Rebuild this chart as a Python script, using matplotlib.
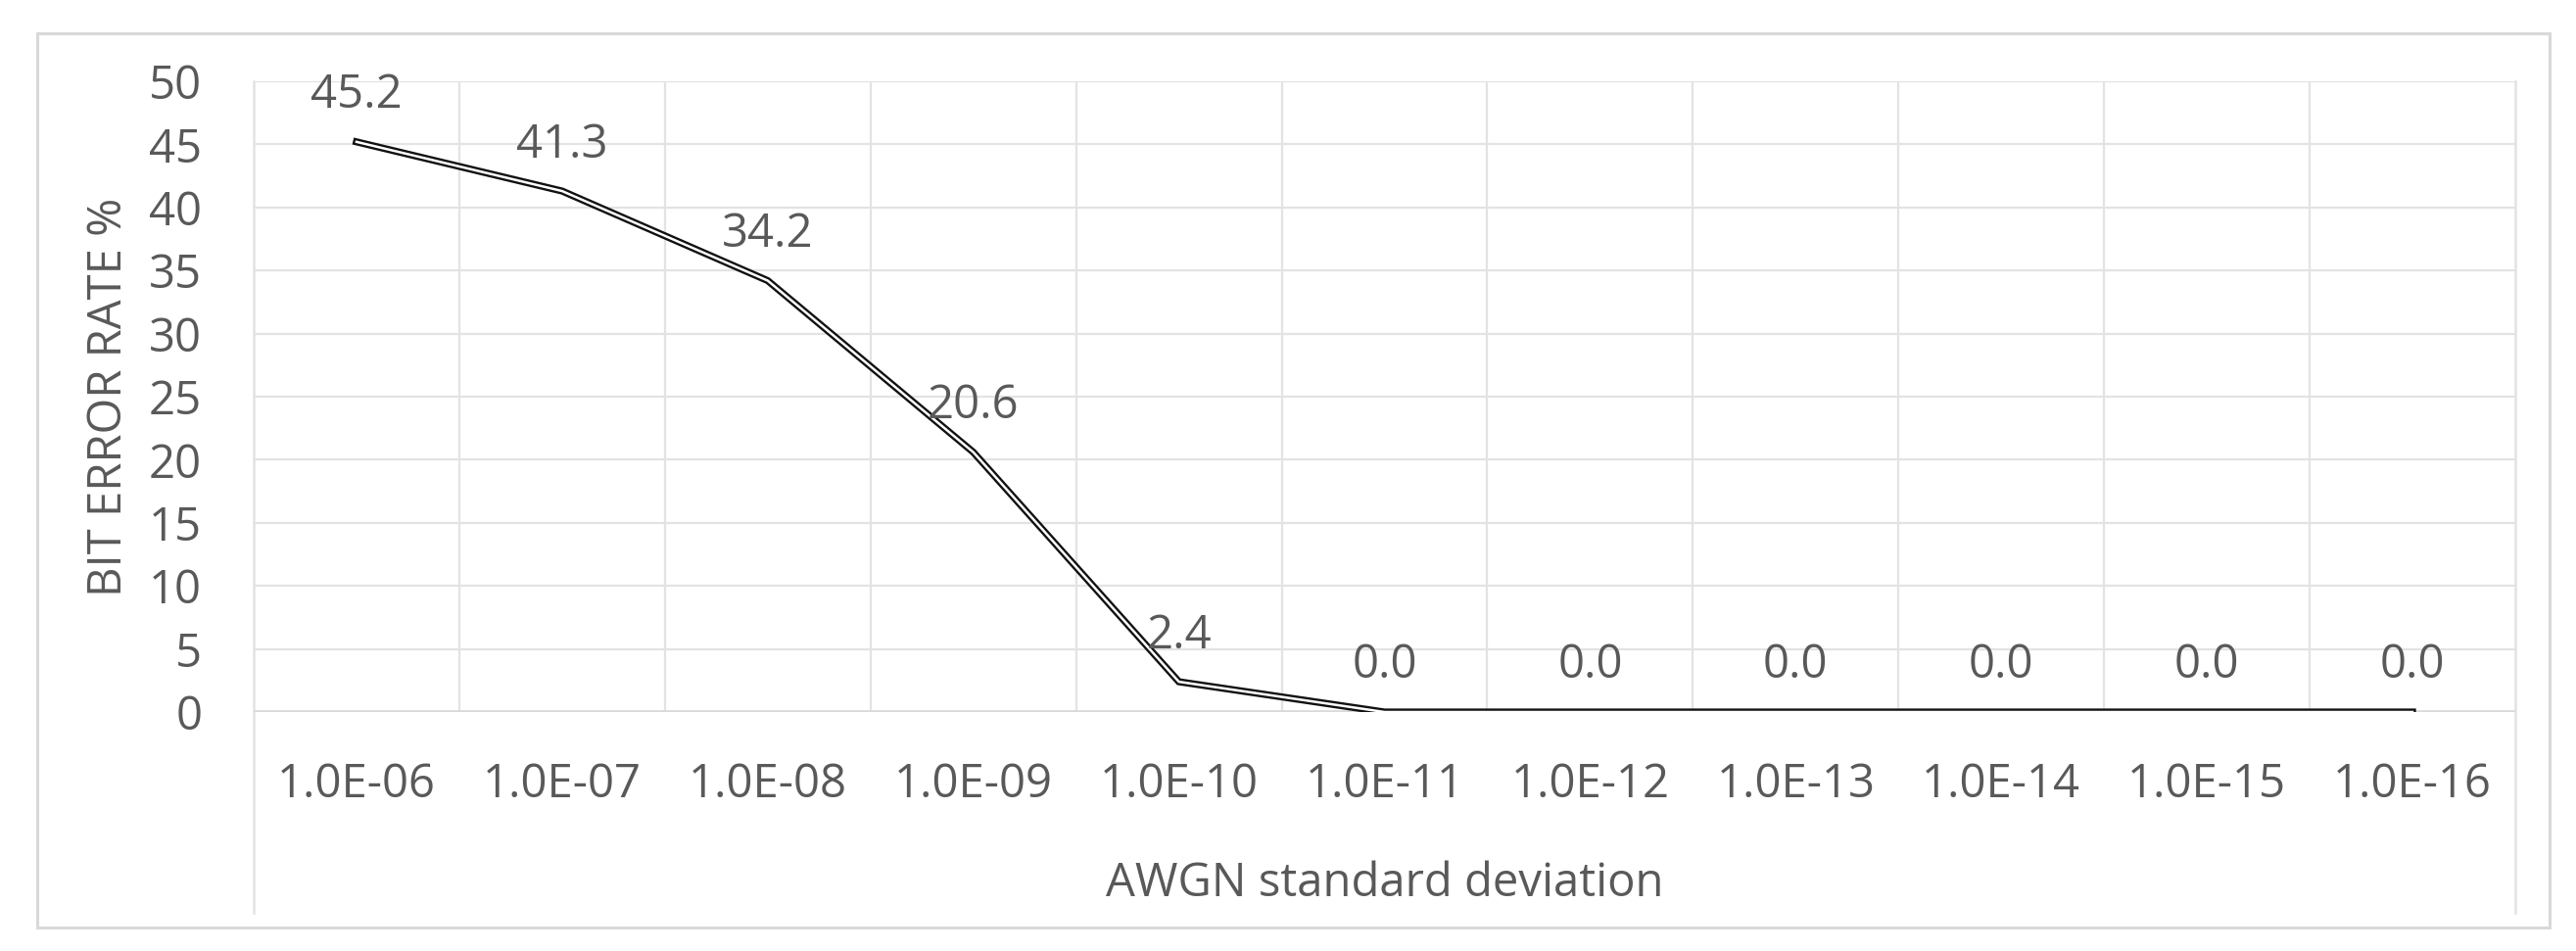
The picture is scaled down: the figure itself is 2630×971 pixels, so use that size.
import matplotlib
matplotlib.use("Agg")
from matplotlib import pyplot as plt
from matplotlib.patches import Rectangle
import numpy as np

# Data
categories = ["1.0E-06", "1.0E-07", "1.0E-08", "1.0E-09", "1.0E-10", "1.0E-11",
              "1.0E-12", "1.0E-13", "1.0E-14", "1.0E-15", "1.0E-16"]
ber = [45.2, 41.3, 34.2, 20.6, 2.4, 0.0, 0.0, 0.0, 0.0, 0.0, 0.0]
y_ticks = [0, 5, 10, 15, 20, 25, 30, 35, 40, 45, 50]

TEXT = "#595959"
GRID = "#e3e3e3"
FS = 34

plt.rcParams["font.family"] = ["Open Sans", "DejaVu Sans"]

W, H = 2630, 971
fig = plt.figure(figsize=(W / 100, H / 100), dpi=100)

# plot area in pixels: left 259, right 2568, top 83, bottom 727
ax = fig.add_axes([259 / W, 1 - 727 / H, (2568 - 259) / W, (727 - 83) / H])

x = np.arange(len(categories)) + 0.5
ax.set_xlim(0, len(categories))
ax.set_ylim(0, 50)

for s in ax.spines.values():
    s.set_visible(False)

# gridlines
for yv in y_ticks[1:]:
    ax.axhline(yv, color=GRID, lw=1.6, zorder=0)
ax.axhline(0, color="#d9d9d9", lw=2.6, zorder=1)
for xv in range(1, len(categories)):
    ax.axvline(xv, color=GRID, lw=1.6, zorder=0)
# outer frame lines of plot area extend down to the axis title area
for xv in [0, len(categories)]:
    ax.axvline(xv, ymin=-(932 - 727) / 644, ymax=1, color=GRID, lw=1.8,
               zorder=0, clip_on=False)

# double line (black outline with white core)
ax.plot(x, ber, color="#111111", lw=5.2, solid_joinstyle="miter", zorder=3)
ax.plot(x, ber, color="white", lw=1.8, solid_joinstyle="miter", zorder=4)

for xi, v in zip(x, ber):
    ax.annotate(f"{v:.1f}", (xi, v), xytext=(0, 38), textcoords="offset points",
                ha="center", va="center_baseline", fontsize=FS, color=TEXT,
                zorder=5)

ax.set_xticks(x)
ax.set_xticklabels(categories)
ax.set_yticks(y_ticks)
ax.tick_params(axis="both", length=0, labelsize=FS, labelcolor=TEXT)
ax.tick_params(axis="y", pad=38)
ax.tick_params(axis="x", pad=36)

ax.set_ylabel("BIT ERROR RATE %", fontsize=FS, color=TEXT)
ax.yaxis.set_label_coords((111 - 259) / 2309, 0.5)
ax.yaxis.label.set_va("center")
ax.set_xlabel("AWGN standard deviation", fontsize=FS, color=TEXT)
ax.xaxis.set_label_coords(0.5, -(897 - 727) / 644)
ax.xaxis.label.set_va("center_baseline")

# chart border
fig.patches.append(Rectangle((38 / W, 1 - 947 / H), (2603 - 38) / W, (947 - 34) / H,
                             transform=fig.transFigure, fill=False,
                             edgecolor="#d9d9d9", lw=2.2))

fig.savefig("out.png", dpi=100)
